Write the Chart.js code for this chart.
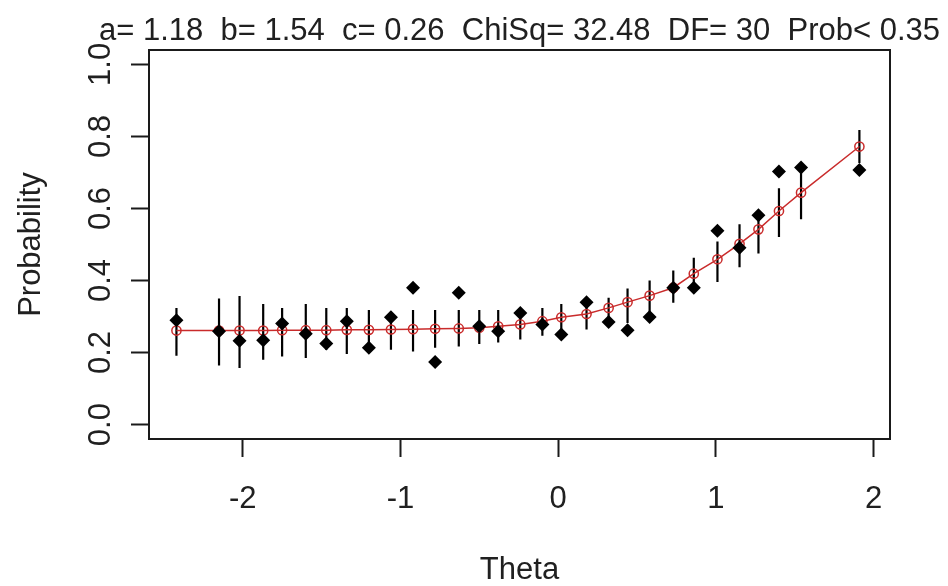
<!DOCTYPE html>
<html>
<head>
<meta charset="utf-8">
<title>Item fit plot</title>
<script src="https://cdn.jsdelivr.net/npm/chart.js@4.4.1/dist/chart.umd.min.js"></script>
<style>
  html, body { margin: 0; padding: 0; background: #ffffff; }
  canvas { display: block; }
</style>
</head>
<body>
<canvas id="itemFit" width="948" height="586"></canvas>
<script>
// Ability groups (theta) and the proportion correct observed in each group
const thetaPoints = [-2.42, -2.15, -2.02, -1.87, -1.75, -1.60, -1.47, -1.34, -1.20, -1.06,
                     -0.92, -0.78, -0.63, -0.50, -0.38, -0.24, -0.10, 0.02, 0.18, 0.32,
                     0.44, 0.58, 0.73, 0.86, 1.01, 1.15, 1.27, 1.40, 1.54, 1.91];
const observedProb = [0.290, 0.259, 0.233, 0.234, 0.281, 0.252, 0.225, 0.287, 0.213, 0.298,
                      0.380, 0.174, 0.366, 0.273, 0.259, 0.310, 0.278, 0.250, 0.340, 0.285,
                      0.262, 0.299, 0.380, 0.380, 0.538, 0.491, 0.581, 0.703, 0.714, 0.707];
// Model-implied probability for each group
const expectedProb = [0.261, 0.261, 0.261, 0.261, 0.262, 0.262, 0.262, 0.263, 0.263, 0.264,
                      0.265, 0.266, 0.267, 0.269, 0.273, 0.278, 0.287, 0.298, 0.307, 0.324,
                      0.340, 0.358, 0.380, 0.419, 0.459, 0.502, 0.542, 0.593, 0.644, 0.772];
// Interval limits around the model curve
const ciLower = [0.191, 0.164, 0.157, 0.180, 0.189, 0.185, 0.208, 0.196, 0.199, 0.208,
                 0.203, 0.213, 0.217, 0.224, 0.228, 0.236, 0.247, 0.259, 0.264, 0.279,
                 0.282, 0.298, 0.338, 0.375, 0.396, 0.437, 0.475, 0.521, 0.570, 0.726];
const ciUpper = [0.324, 0.350, 0.357, 0.335, 0.324, 0.335, 0.324, 0.324, 0.318, 0.313,
                 0.318, 0.318, 0.318, 0.318, 0.318, 0.320, 0.324, 0.335, 0.344, 0.352,
                 0.378, 0.400, 0.428, 0.463, 0.508, 0.556, 0.593, 0.656, 0.718, 0.818];

const xTickValues = [-2, -1, 0, 1, 2];
const yTickValues = [0.0, 0.2, 0.4, 0.6, 0.8, 1.0];
const xTickLabels = ['-2', '-1', '0', '1', '2'];
const yTickLabels = ['0.0', '0.2', '0.4', '0.6', '0.8', '1.0'];

const fitSummary = 'a= 1.18  b= 1.54  c= 0.26  ChiSq= 32.48  DF= 30  Prob< 0.35';
const xAxisTitle = 'Theta';
const yAxisTitle = 'Probability';

const FONT = "'Liberation Sans', Arial, Helvetica, sans-serif";
const INK = '#1a1a1a';
const TEXT_INK = '#202020';
const CURVE_RED = '#c92b2b';

// Vertical interval segments, one per group, separated by gaps
const intervalSegments = [];
thetaPoints.forEach((t, i) => {
  intervalSegments.push({ x: t, y: ciLower[i] });
  intervalSegments.push({ x: t, y: ciUpper[i] });
  intervalSegments.push({ x: t, y: null });
});

// Plot frame plus the fit summary above it
const framePlugin = {
  id: 'frameAndSummary',
  afterDatasetsDraw(chart) {
    const { ctx, chartArea: a } = chart;
    ctx.save();
    ctx.strokeStyle = INK;
    ctx.lineWidth = 2;
    ctx.strokeRect(a.left, a.top, a.right - a.left, a.bottom - a.top);
    ctx.restore();
  },
  afterDraw(chart) {
    const { ctx, chartArea: a } = chart;
    ctx.save();
    ctx.fillStyle = TEXT_INK;
    ctx.font = '31px ' + FONT;
    ctx.textAlign = 'center';
    ctx.textBaseline = 'alphabetic';
    ctx.fillText(fitSummary, (a.left + a.right) / 2, 40);
    ctx.restore();
  }
};

new Chart(document.getElementById('itemFit'), {
  type: 'scatter',
  data: {
    datasets: [
      {
        label: 'Observed',
        data: thetaPoints.map((t, i) => ({ x: t, y: observedProb[i] })),
        showLine: false,
        pointStyle: 'rectRot',
        pointRadius: 7,
        pointBackgroundColor: '#000',
        pointBorderColor: '#000',
        pointBorderWidth: 0
      },
      {
        label: 'Expected',
        data: thetaPoints.map((t, i) => ({ x: t, y: expectedProb[i] })),
        showLine: true,
        borderColor: CURVE_RED,
        borderWidth: 1.5,
        pointStyle: 'circle',
        pointRadius: 4.6,
        pointBorderWidth: 1.5,
        pointBorderColor: CURVE_RED,
        pointBackgroundColor: 'rgba(0,0,0,0)'
      },
      {
        label: 'Interval',
        data: intervalSegments,
        showLine: true,
        spanGaps: false,
        borderColor: '#000',
        borderWidth: 2.2,
        borderCapStyle: 'butt',
        pointRadius: 0
      }
    ]
  },
  options: {
    responsive: false,
    animation: false,
    devicePixelRatio: 1,
    layout: { padding: { left: 0, top: 50, right: 58, bottom: 0 } },
    plugins: {
      legend: { display: false },
      tooltip: { enabled: false },
      title: { display: false }
    },
    scales: {
      x: {
        type: 'linear',
        min: -2.594,
        max: 2.104,
        afterBuildTicks(scale) { scale.ticks = xTickValues.map(v => ({ value: v })); },
        afterFit(scale) { scale.height = 147; },
        grid: {
          drawOnChartArea: false,
          drawTicks: true,
          tickLength: 18,
          tickWidth: 2,
          tickColor: INK
        },
        border: { display: false },
        ticks: {
          color: TEXT_INK,
          font: { family: FONT, size: 31 },
          padding: 24,
          maxRotation: 0,
          callback: (v) => xTickLabels[xTickValues.indexOf(v)]
        },
        title: {
          display: true,
          text: xAxisTitle,
          color: TEXT_INK,
          font: { family: FONT, size: 31, lineHeight: 1 },
          padding: { top: 0, bottom: 0 }
        }
      },
      y: {
        type: 'linear',
        min: -0.04,
        max: 1.04,
        afterBuildTicks(scale) { scale.ticks = yTickValues.map(v => ({ value: v })); },
        afterFit(scale) { scale.width = 149; },
        grid: {
          drawOnChartArea: false,
          drawTicks: true,
          tickLength: 18,
          tickWidth: 2,
          tickColor: INK
        },
        border: { display: false },
        ticks: {
          color: TEXT_INK,
          font: { family: FONT, size: 31 },
          padding: 8,
          minRotation: 90,
          maxRotation: 90,
          crossAlign: 'center',
          callback: (v) => yTickLabels[yTickValues.indexOf(v)]
        },
        title: {
          display: true,
          text: yAxisTitle,
          color: TEXT_INK,
          font: { family: FONT, size: 31, lineHeight: 1 },
          padding: { top: 16, bottom: 0 }
        }
      }
    }
  },
  plugins: [framePlugin]
});
</script>
</body>
</html>
